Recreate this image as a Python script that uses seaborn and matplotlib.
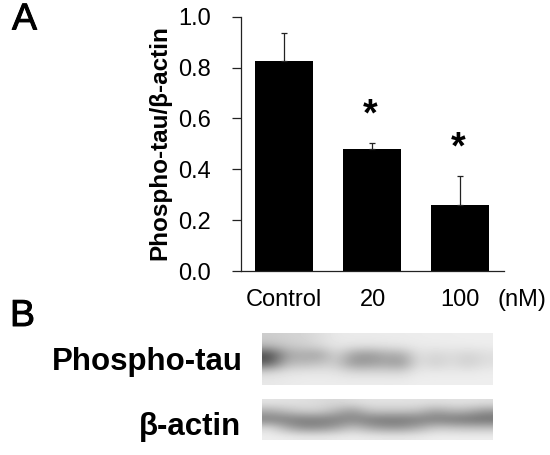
import numpy as np
import pandas as pd
import seaborn as sns
import matplotlib.pyplot as plt
import matplotlib.patheffects as pe

# values
groups = ['Control', '20', '100']
means = [0.825, 0.48, 0.26]
errors = [0.11, 0.025, 0.115]
stars = [None, '*', '*']
y_ticks = [0.0, 0.2, 0.4, 0.6, 0.8, 1.0]

# blot grey levels, rows top to bottom, columns left to right
tau_blot = [
    [205, 210, 212, 222, 232, 234, 234, 235, 235, 236, 237, 237, 238, 238],
    [185, 200, 206, 216, 230, 226, 224, 226, 230, 234, 234, 235, 235, 236],
    [ 70, 165, 170, 160, 215, 160, 150, 172, 170, 226, 212, 222, 210, 222],
    [ 95, 185, 185, 195, 205, 150, 155, 165, 150, 226, 205, 222, 205, 222],
    [215, 226, 228, 230, 226, 215, 215, 215, 212, 234, 232, 234, 232, 236],
    [232, 234, 236, 236, 236, 236, 236, 236, 236, 238, 238, 238, 238, 238],
]
actin_blot = [
    [228, 226, 224, 220, 216, 222, 226, 226, 226, 226, 224, 226, 226, 224],
    [170, 190, 205, 205, 180, 150, 195, 195, 195, 190, 160, 180, 175, 150],
    [125, 125, 122, 125, 125, 135, 122, 118, 118, 125, 125, 118, 112, 108],
    [220, 170, 140, 140, 160, 195, 165, 150, 150, 170, 200, 195, 190, 190],
    [238, 236, 232, 232, 234, 236, 234, 232, 232, 234, 238, 238, 238, 238],
]

df = pd.DataFrame({'group': groups, 'mean': means})

W, H = 550, 455
fig = plt.figure(figsize=(W / 100, H / 100), dpi=100)
plt.rcParams['font.family'] = ['Liberation Sans', 'DejaVu Sans']


def px_axes(x0, y0, x1, y1):
    return fig.add_axes([x0 / W, 1 - y1 / H, (x1 - x0) / W, (y1 - y0) / H])


ax = px_axes(241, 16.7, 504, 271)
sns.barplot(data=df, x='group', y='mean', color='black', width=0.66, saturation=1, ax=ax)
ax.errorbar(range(3), means, yerr=[[0, 0, 0], errors], fmt='none', ecolor='#222222',
            elinewidth=0.9, capsize=2.5, capthick=0.9)
for i, s in enumerate(stars):
    if s:
        ax.text(i - 0.017, means[i] + errors[i] + 0.105, s, ha='center', va='center', fontsize=27,
                fontweight='bold', family=['Liberation Sans', 'DejaVu Sans'])
ax.set_xlim(-0.49, 2.5)
ax.set_ylim(0, 1)
ax.set_yticks(y_ticks, [f'{t:.1f}' for t in y_ticks], fontsize=17)
ax.set_xticks([])
ax.set_xlabel('')
ax.set_ylabel('Phospho-tau/β-actin', fontsize=17.5, fontweight='bold')
ax.yaxis.set_label_coords(-0.265, 0.506)
ax.tick_params(axis='y', length=6.5, width=0.9, pad=15, color='#222222')
sns.despine(ax=ax)
for side in ['left', 'bottom']:
    ax.spines[side].set_linewidth(0.9)
    ax.spines[side].set_color('#222222')

# category labels sit in a row below the axis
for label, px in zip(groups + ['(nM)'], [284, 373, 460, 522]):
    fig.text(px / W, 1 - 300 / H, label, ha='center', va='center', fontsize=17)

heavy = [pe.withStroke(linewidth=0.7, foreground='black')]
fig.text(12 / W, 1 - 19.5 / H, 'A', fontsize=27, va='center', path_effects=heavy)
fig.text(10 / W, 1 - 316 / H, 'B', fontsize=27, va='center', path_effects=heavy)
fig.text(243 / W, 1 - 362 / H, 'Phospho-tau', fontsize=22.5, fontweight='bold', ha='right', va='center')
fig.text(241 / W, 1 - 427 / H, 'β-actin', fontsize=22.5, fontweight='bold', ha='right', va='center',
         family=['Liberation Sans', 'DejaVu Sans'])

for blot, box in [(tau_blot, (262, 333, 493, 385)), (actin_blot, (262, 399, 493, 440))]:
    bax = px_axes(*box)
    bax.imshow(np.array(blot), cmap='gray', vmin=0, vmax=255, aspect='auto', interpolation='bicubic')
    bax.axis('off')

fig.savefig('out.png', dpi=100)
